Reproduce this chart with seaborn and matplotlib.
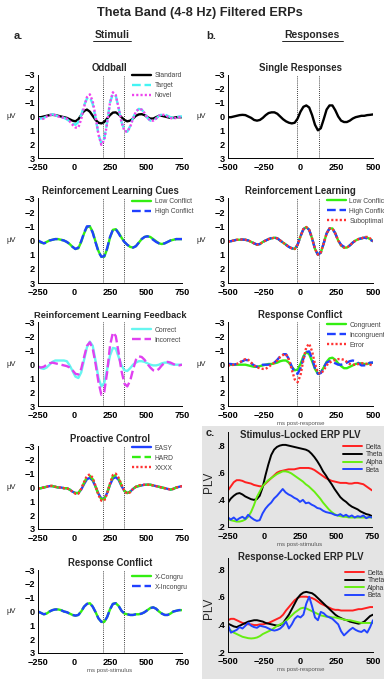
import matplotlib
matplotlib.use("Agg")
import matplotlib.pyplot as plt
import seaborn as sns
from matplotlib.patches import Rectangle
from matplotlib.lines import Line2D

# ---------------- time axes ----------------
t_stim = list(range(-250, 751, 20))
t_resp = list(range(-500, 501, 20))

# ---------------- a. Stimuli ----------------
odd_standard = [0.05, 0.05, 0.0, -0.05, -0.1, -0.12, -0.1, -0.05, 0.0, 0.05,
                0.1, 0.2, 0.3, 0.35, 0.2, -0.1, -0.4, -0.5, -0.35, -0.05,
                0.25, 0.45, 0.5, 0.4, 0.15, -0.1, -0.28, -0.3, -0.15, 0.05,
                0.25, 0.35, 0.3, 0.15, -0.05, -0.15, -0.17, -0.1, 0.05, 0.15,
                0.15, 0.05, -0.05, -0.05, 0.0, 0.05, 0.1, 0.1, 0.05, 0.05,
                0.05]
odd_target = [0.1, 0.15, 0.1, 0.0, -0.1, -0.15, -0.1, 0.0, 0.05, 0.1,
              0.2, 0.35, 0.5, 0.6, 0.4, -0.1, -0.8, -1.3, -1.4, -0.9,
              0.1, 1.3, 1.95, 1.6, 0.4, -1.0, -1.65, -1.5, -0.6, 0.4,
              1.0, 1.1, 0.7, 0.1, -0.35, -0.55, -0.5, -0.25, 0.1, 0.3,
              0.3, 0.15, -0.05, -0.15, -0.15, -0.05, 0.05, 0.1, 0.05, 0.0,
              0.0]
odd_novel = [0.15, 0.2, 0.15, 0.0, -0.1, -0.15, -0.1, 0.0, 0.05, 0.1,
             0.15, 0.35, 0.6, 0.8, 0.8, 0.2, -0.7, -1.4, -1.6, -1.1,
             0.0, 1.3, 2.05, 1.7, 0.5, -1.0, -1.75, -1.55, -0.6, 0.4,
             1.05, 1.1, 0.75, 0.15, -0.35, -0.55, -0.5, -0.25, 0.1, 0.3,
             0.3, 0.15, -0.05, -0.15, -0.1, 0.0, 0.1, 0.15, 0.1, 0.05,
             0.0]

rlc_low = [0.05, 0.15, 0.2, 0.1, 0.0, -0.05, -0.1, -0.1, -0.05, 0.0,
           0.1, 0.25, 0.45, 0.6, 0.55, 0.1, -0.5, -0.95, -1.0, -0.6,
           0.1, 0.75, 1.15, 1.15, 0.6, -0.2, -0.75, -0.8, -0.55, -0.2,
           0.1, 0.3, 0.45, 0.5, 0.4, 0.15, -0.1, -0.25, -0.3, -0.25,
           -0.1, 0.05, 0.2, 0.25, 0.2, 0.1, 0.0, -0.05, -0.1, -0.1,
           -0.1]
rlc_high = [0.0, 0.1, 0.2, 0.15, 0.0, -0.05, -0.1, -0.1, -0.05, 0.0,
            0.1, 0.25, 0.45, 0.6, 0.5, 0.05, -0.55, -1.0, -1.0, -0.55,
            0.15, 0.8, 1.15, 1.1, 0.55, -0.25, -0.75, -0.8, -0.5, -0.15,
            0.1, 0.3, 0.45, 0.5, 0.4, 0.15, -0.1, -0.25, -0.3, -0.2,
            -0.05, 0.1, 0.2, 0.25, 0.2, 0.1, 0.0, -0.05, -0.1, -0.1,
            -0.1]

rlf_correct = [0.15, 0.3, 0.35, 0.25, 0.05, -0.15, -0.25, -0.25, -0.25, -0.25,
               -0.2, 0.1, 0.5, 0.9, 1.0, 0.6, -0.3, -1.2, -1.6, -1.3,
               -0.2, 1.0, 1.6, 1.35, 0.4, -0.6, -1.15, -1.1, -0.5, 0.1,
               0.45, 0.5, 0.3, 0.05, -0.1, -0.2, -0.2, -0.15, -0.05, 0.05,
               0.1, 0.1, 0.05, -0.05, -0.1, -0.1, 0.0, 0.05, 0.05, 0.05,
               0.05]
rlf_incorrect = [0.2, 0.25, 0.2, 0.05, -0.05, -0.1, -0.05, 0.0, 0.05, 0.1,
                 0.15, 0.25, 0.45, 0.7, 0.75, 0.35, -0.5, -1.3, -1.55, -1.1,
                 0.0, 1.3, 2.2, 2.0, 0.6, -1.3, -2.25, -2.0, -0.8, 0.5,
                 1.4, 1.6, 1.2, 0.4, -0.3, -0.55, -0.5, -0.3, 0.0, 0.25,
                 0.45, 0.5, 0.35, 0.1, -0.1, -0.15, -0.1, 0.0, 0.1, 0.1,
                 0.05]

pc_easy = [0.05, 0.05, 0.0, -0.05, -0.1, -0.1, -0.05, 0.0, 0.0, 0.05,
           0.05, 0.15, 0.3, 0.4, 0.4, 0.15, -0.25, -0.6, -0.7, -0.5,
           -0.05, 0.45, 0.8, 0.8, 0.4, -0.2, -0.65, -0.75, -0.55, -0.1,
           0.25, 0.4, 0.3, 0.1, -0.05, -0.1, -0.15, -0.2, -0.2, -0.2,
           -0.15, -0.1, -0.05, 0.0, 0.05, 0.1, 0.15, 0.1, 0.0, -0.05,
           -0.1]
pc_hard = [0.05, 0.05, 0.0, -0.05, -0.12, -0.1, -0.05, 0.0, 0.0, 0.05,
           0.05, 0.15, 0.3, 0.4, 0.4, 0.1, -0.35, -0.75, -0.85, -0.6,
           -0.05, 0.5, 0.85, 0.85, 0.4, -0.25, -0.8, -0.9, -0.65, -0.15,
           0.25, 0.4, 0.3, 0.1, -0.05, -0.12, -0.17, -0.2, -0.2, -0.2,
           -0.15, -0.1, -0.05, 0.0, 0.05, 0.1, 0.15, 0.1, 0.0, -0.05,
           -0.1]
pc_xxxx = [0.1, 0.05, 0.0, -0.05, -0.12, -0.12, -0.05, 0.0, 0.0, 0.05,
           0.05, 0.15, 0.3, 0.45, 0.45, 0.1, -0.4, -0.85, -0.95, -0.7,
           -0.1, 0.55, 0.95, 0.95, 0.45, -0.3, -0.9, -1.0, -0.7, -0.2,
           0.25, 0.45, 0.35, 0.1, -0.05, -0.15, -0.2, -0.2, -0.2, -0.2,
           -0.15, -0.1, -0.05, 0.0, 0.05, 0.1, 0.15, 0.1, 0.0, -0.05,
           -0.1]

rcs_congru = [0.0, 0.1, 0.2, 0.15, 0.0, -0.1, -0.15, -0.15, -0.1, 0.0,
              0.05, 0.15, 0.25, 0.3, 0.25, 0.0, -0.35, -0.55, -0.6, -0.35,
              0.05, 0.5, 0.75, 0.75, 0.4, -0.15, -0.55, -0.6, -0.4, -0.05,
              0.15, 0.2, 0.25, 0.25, 0.2, 0.2, 0.15, 0.05, -0.1, -0.25,
              -0.3, -0.2, 0.0, 0.15, 0.25, 0.25, 0.15, 0.0, -0.05, -0.1,
              -0.1]
rcs_incongru = [0.0, 0.1, 0.2, 0.15, 0.0, -0.1, -0.15, -0.15, -0.1, 0.0,
                0.05, 0.15, 0.25, 0.3, 0.25, 0.0, -0.35, -0.55, -0.6, -0.35,
                0.05, 0.5, 0.75, 0.75, 0.4, -0.15, -0.55, -0.6, -0.4, -0.05,
                0.15, 0.2, 0.25, 0.25, 0.2, 0.2, 0.15, 0.05, -0.1, -0.25,
                -0.3, -0.2, 0.0, 0.15, 0.25, 0.25, 0.15, 0.0, -0.05, -0.1,
                -0.1]

# ---------------- b. Responses ----------------
sr_single = [0.05, 0.05, 0.0, -0.05, -0.1, -0.12, -0.1, 0.0, 0.1, 0.25,
             0.3, 0.25, 0.1, -0.1, -0.25, -0.3, -0.3, -0.2, 0.0, 0.2,
             0.35, 0.45, 0.5, 0.45, 0.15, -0.35, -0.7, -0.8, -0.65, -0.1,
             0.6, 1.0, 0.85, 0.2, -0.5, -0.8, -0.8, -0.45, 0.0, 0.3,
             0.4, 0.4, 0.3, 0.15, 0.05, 0.0, -0.05, -0.05, -0.1, -0.12,
             -0.15]

rl_low = [0.05, 0.05, 0.0, -0.05, -0.05, -0.07, -0.05, 0.0, 0.1, 0.2,
          0.3, 0.25, 0.1, 0.0, -0.1, -0.15, -0.2, -0.15, 0.0, 0.15,
          0.3, 0.45, 0.55, 0.6, 0.3, -0.3, -0.8, -0.95, -0.75, -0.15,
          0.6, 1.0, 0.85, 0.2, -0.5, -0.85, -0.85, -0.5, 0.0, 0.35,
          0.5, 0.5, 0.35, 0.15, 0.0, -0.1, -0.15, -0.2, -0.2, -0.1,
          0.05]
rl_high = [0.05, 0.05, 0.0, -0.05, -0.07, -0.07, -0.05, 0.0, 0.1, 0.2,
           0.28, 0.25, 0.1, 0.0, -0.1, -0.18, -0.22, -0.15, 0.0, 0.15,
           0.3, 0.45, 0.55, 0.6, 0.3, -0.3, -0.8, -0.95, -0.75, -0.15,
           0.6, 1.0, 0.85, 0.2, -0.5, -0.85, -0.85, -0.5, 0.0, 0.3,
           0.45, 0.45, 0.35, 0.15, 0.0, -0.1, -0.15, -0.2, -0.15, -0.05,
           0.05]
rl_subopt = [0.1, 0.05, 0.0, -0.05, -0.07, -0.07, -0.05, 0.0, 0.1, 0.2,
             0.3, 0.25, 0.1, 0.0, -0.1, -0.15, -0.2, -0.15, 0.0, 0.15,
             0.3, 0.45, 0.55, 0.6, 0.3, -0.3, -0.8, -0.95, -0.75, -0.15,
             0.6, 1.0, 0.85, 0.2, -0.5, -0.85, -0.85, -0.5, 0.0, 0.35,
             0.5, 0.5, 0.35, 0.15, 0.0, -0.1, -0.15, -0.25, -0.25, -0.15,
             0.05]

rc_congruent = [0.05, 0.05, 0.05, 0.05, 0.05, 0.05, 0.05, 0.1, 0.15, 0.2,
                0.2, 0.15, 0.1, 0.05, 0.0, 0.0, -0.05, -0.1, -0.2, -0.25,
                -0.25, -0.1, 0.2, 0.45, 0.4, 0.0, -0.55, -0.85, -0.7, -0.2,
                0.35, 0.7, 0.6, 0.25, -0.15, -0.4, -0.45, -0.3, -0.05, 0.15,
                0.3, 0.3, 0.2, 0.1, 0.0, -0.05, -0.05, 0.0, 0.0, -0.05,
                -0.1]
rc_incongruent = [0.0, 0.0, 0.05, 0.0, -0.1, -0.2, -0.3, -0.25, -0.05, 0.1,
                  0.2, 0.15, 0.05, 0.05, 0.05, 0.0, -0.1, -0.3, -0.55, -0.7,
                  -0.7, -0.35, 0.2, 0.6, 0.7, 0.3, -0.4, -0.85, -0.9, -0.4,
                  0.3, 0.7, 0.65, 0.25, -0.1, -0.2, -0.15, -0.05, 0.05, 0.05,
                  0.0, -0.1, -0.2, -0.25, -0.2, -0.05, 0.1, 0.1, 0.0, -0.1,
                  -0.1]
rc_error = [0.1, 0.1, 0.05, 0.0, -0.1, -0.25, -0.35, -0.3, -0.1, 0.1,
            0.25, 0.3, 0.35, 0.35, 0.2, 0.05, -0.1, -0.25, -0.5, -0.65,
            -0.7, -0.3, 0.4, 1.1, 1.3, 0.8, -0.3, -1.2, -1.45, -0.9,
            0.0, 0.6, 0.7, 0.45, 0.1, -0.1, -0.2, -0.3, -0.35, -0.35,
            -0.3, -0.15, 0.0, 0.05, 0.05, 0.0, -0.05, -0.05, 0.0, 0.05,
            0.1]

# ---------------- c. PLV ----------------
plv_s_delta = [0.47, 0.5, 0.53, 0.545, 0.545, 0.54, 0.53, 0.525, 0.52, 0.51,
               0.505, 0.5, 0.5, 0.52, 0.54, 0.56, 0.58, 0.6, 0.61, 0.615,
               0.62, 0.625, 0.625, 0.625, 0.63, 0.635, 0.635, 0.635, 0.635, 0.63,
               0.62, 0.605, 0.59, 0.575, 0.56, 0.55, 0.54, 0.535, 0.53, 0.525,
               0.525, 0.525, 0.52, 0.52, 0.525, 0.525, 0.52, 0.515, 0.5, 0.485,
               0.47]
plv_s_theta = [0.38, 0.41, 0.43, 0.445, 0.45, 0.44, 0.425, 0.415, 0.405, 0.4,
               0.405, 0.43, 0.49, 0.58, 0.66, 0.73, 0.77, 0.79, 0.8, 0.805,
               0.805, 0.8, 0.795, 0.79, 0.785, 0.78, 0.775, 0.77, 0.76, 0.74,
               0.715, 0.685, 0.65, 0.61, 0.58, 0.545, 0.515, 0.48, 0.45, 0.42,
               0.4, 0.385, 0.365, 0.35, 0.34, 0.33, 0.315, 0.305, 0.295, 0.29,
               0.28]
plv_s_alpha = [0.26, 0.25, 0.245, 0.24, 0.24, 0.245, 0.255, 0.275, 0.31, 0.36,
               0.42, 0.46, 0.5, 0.525, 0.545, 0.56, 0.575, 0.59, 0.6, 0.61,
               0.61, 0.605, 0.595, 0.58, 0.565, 0.55, 0.535, 0.515, 0.5, 0.48,
               0.46, 0.435, 0.41, 0.38, 0.355, 0.33, 0.31, 0.295, 0.285, 0.28,
               0.275, 0.275, 0.27, 0.27, 0.27, 0.27, 0.27, 0.27, 0.27, 0.27,
               0.27]
plv_s_beta = [0.27, 0.255, 0.27, 0.25, 0.265, 0.275, 0.26, 0.29, 0.27, 0.255,
              0.245, 0.25, 0.3, 0.335, 0.36, 0.38, 0.41, 0.43, 0.455, 0.48,
              0.455, 0.44, 0.43, 0.415, 0.405, 0.385, 0.4, 0.375, 0.38, 0.365,
              0.355, 0.34, 0.335, 0.32, 0.31, 0.305, 0.3, 0.29, 0.285, 0.295,
              0.28, 0.29, 0.275, 0.285, 0.27, 0.28, 0.275, 0.285, 0.265, 0.275,
              0.27]

plv_r_delta = [0.43, 0.44, 0.44, 0.43, 0.42, 0.41, 0.405, 0.4, 0.4, 0.395,
               0.395, 0.4, 0.4, 0.405, 0.41, 0.42, 0.43, 0.44, 0.45, 0.47,
               0.5, 0.525, 0.55, 0.575, 0.59, 0.6, 0.6, 0.6, 0.595, 0.59,
               0.58, 0.565, 0.55, 0.54, 0.53, 0.52, 0.51, 0.505, 0.505, 0.5,
               0.5, 0.5, 0.5, 0.5, 0.505, 0.51, 0.51, 0.515, 0.52, 0.525,
               0.525]
plv_r_theta = [0.405, 0.395, 0.385, 0.38, 0.39, 0.4, 0.41, 0.42, 0.425, 0.43,
               0.43, 0.425, 0.42, 0.41, 0.405, 0.4, 0.395, 0.39, 0.395, 0.41,
               0.44, 0.47, 0.51, 0.55, 0.59, 0.615, 0.63, 0.635, 0.63, 0.625,
               0.61, 0.59, 0.57, 0.55, 0.53, 0.51, 0.49, 0.47, 0.455, 0.445,
               0.435, 0.43, 0.42, 0.415, 0.41, 0.405, 0.41, 0.42, 0.44, 0.46,
               0.47]
plv_r_alpha = [0.37, 0.355, 0.34, 0.33, 0.32, 0.31, 0.305, 0.3, 0.298, 0.3,
               0.305, 0.315, 0.33, 0.34, 0.35, 0.36, 0.375, 0.39, 0.4, 0.41,
               0.425, 0.445, 0.465, 0.485, 0.5, 0.515, 0.52, 0.515, 0.505, 0.495,
               0.485, 0.475, 0.465, 0.46, 0.455, 0.455, 0.45, 0.45, 0.445, 0.44,
               0.435, 0.43, 0.43, 0.425, 0.42, 0.415, 0.41, 0.41, 0.41, 0.41,
               0.41]
plv_r_beta = [0.395, 0.34, 0.35, 0.36, 0.38, 0.37, 0.39, 0.41, 0.39, 0.38,
              0.375, 0.39, 0.385, 0.38, 0.37, 0.36, 0.355, 0.36, 0.37, 0.39,
              0.42, 0.37, 0.4, 0.44, 0.46, 0.45, 0.47, 0.55, 0.6, 0.53,
              0.45, 0.43, 0.49, 0.48, 0.46, 0.45, 0.44, 0.42, 0.4, 0.35,
              0.32, 0.34, 0.36, 0.375, 0.36, 0.35, 0.345, 0.36, 0.34, 0.38,
              0.43]

xt_stim = [-250, 0, 250, 500, 750]
xt_resp = [-500, -250, 0, 250, 500]
yt_erp = [-3, -2, -1, 0, 1, 2, 3]
yt_plv = [0.2, 0.4, 0.6, 0.8]
yt_plv_labels = [".2", ".4", ".6", ".8"]

# ---------------- figure ----------------
sns.set_theme(style="white")
plt.rcParams["font.family"] = ["Liberation Sans", "DejaVu Sans"]
plt.rcParams["axes.unicode_minus"] = True

W, H = 384, 679
fig = plt.figure(figsize=(W / 100, H / 100), dpi=100)

LW = 1.7
DOT = (0, (0.9, 0.9))
TICK_FS = 6.6
LEG_FS = 4.9


def rect(x0, x1, y0, y1):
    return [x0 / W, 1 - y1 / H, (x1 - x0) / W, (y1 - y0) / H]


def fmt_num(v):
    s = str(int(v))
    return s.replace("-", "\u2212")


def style_axes(ax, xlim, xticks, ylim, yticks, ylabels):
    ax.set_facecolor("none")
    ax.set_xlim(*xlim)
    ax.set_ylim(*ylim)
    ax.set_xticks(xticks)
    ax.set_xticklabels([fmt_num(v) for v in xticks], fontweight="bold", fontsize=TICK_FS)
    ax.set_yticks(yticks)
    ax.set_yticklabels(ylabels, fontweight="bold", fontsize=TICK_FS)
    for s in ["top", "right"]:
        ax.spines[s].set_visible(False)
    for s in ["left", "bottom"]:
        ax.spines[s].set_color("black")
        ax.spines[s].set_linewidth(0.7)
    ax.tick_params(direction="in", length=2, width=0.6, colors="black")
    ax.tick_params(axis="y", pad=2.3)
    ax.tick_params(axis="x", pad=3.3)
    ax.set_xlabel("")
    ax.set_ylabel("")


def erp_panel(x0, x1, y0, y1, t, series, title, vlines, xticks, leg_anchor=None,
              xlabel=None, title_fs=6.9):
    ax = fig.add_axes(rect(x0, x1, y0, y1))
    handles = []
    for vals, color, ls, lab in series:
        sns.lineplot(x=t, y=vals, ax=ax, color=color, linestyle=ls, linewidth=LW)
        handles.append(Line2D([], [], color=color, linestyle=ls, linewidth=LW, label=lab))
    for v in vlines:
        ax.axvline(v, color="black", linestyle=(0, (1, 1.5)), linewidth=0.6, zorder=0)
    style_axes(ax, (t[0], t[-1]), xticks, (3, -3), yt_erp, [fmt_num(v) for v in yt_erp])
    ax.set_title(title, fontsize=title_fs, fontweight="bold", pad=3)
    ax.text(-0.185, 0.5, "\u03bcV", transform=ax.transAxes, fontsize=5.5,
            ha="center", va="center")
    if leg_anchor is not None:
        leg = ax.legend(handles=handles, loc="upper left", bbox_to_anchor=leg_anchor,
                        frameon=False, fontsize=LEG_FS, handlelength=2.8, handletextpad=0.5,
                        labelspacing=0.45, borderpad=0, borderaxespad=0)
        for txt in leg.get_texts():
            txt.set_color("#444444")
    if xlabel is not None:
        ax.text(0.5, -0.205, xlabel, transform=ax.transAxes, fontsize=4.3,
                color="#555555", ha="center", va="center")
    return ax


def plv_panel(x0, x1, y0, y1, t, series, title, title_y, xticks, ylim, leg_anchor, xlabel):
    ax = fig.add_axes(rect(x0, x1, y0, y1))
    handles = []
    for vals, color, lab in series:
        sns.lineplot(x=t, y=vals, ax=ax, color=color, linewidth=1.4)
        handles.append(Line2D([], [], color=color, linewidth=1.4, label=lab))
    style_axes(ax, (t[0], t[-1]), xticks, ylim, yt_plv, yt_plv_labels)
    ax.text(0.5, title_y, title, transform=ax.transAxes, fontsize=6.9,
            fontweight="bold", ha="center", va="center")
    ax.text(-0.13, 0.47, "PLV", transform=ax.transAxes, fontsize=8.5, rotation=90,
            ha="center", va="center")
    leg = ax.legend(handles=handles, loc="upper left", bbox_to_anchor=leg_anchor,
                    frameon=False, fontsize=LEG_FS, handlelength=2.8, handletextpad=0.5,
                    labelspacing=0.08, borderpad=0, borderaxespad=0)
    for txt in leg.get_texts():
        txt.set_color("#333333")
    ax.text(0.5, -0.185, xlabel, transform=ax.transAxes, fontsize=4.3,
            color="#555555", ha="center", va="center")
    return ax


# grey background for panel c
fig.add_artist(Rectangle((202 / W, 0), (W - 202) / W, (H - 426) / H,
                         transform=fig.transFigure, facecolor="#e4e4e4",
                         edgecolor="none", zorder=-10))

LX0, LX1 = 38, 182
RX0, RX1 = 228, 373
vl_stim = [200, 350]
vl_resp = [-25, 125]

CYAN = "#44f4f4"
MAG = "#ee44ee"
GREEN = "#33ee11"
BLUE = "#2040ff"
RED = "#ff3333"
AQUA = "#66f6f0"
VIOLET = "#e040f0"

erp_panel(LX0, LX1, 75, 158, t_stim,
          [(odd_standard, "black", "-", "Standard"),
           (odd_target, CYAN, "--", "Target"),
           (odd_novel, MAG, DOT, "Novel")],
          "Oddball", vl_stim, xt_stim, leg_anchor=(0.655, 1.035))
erp_panel(LX0, LX1, 198, 283, t_stim,
          [(rlc_low, GREEN, "-", "Low Conflict"),
           (rlc_high, BLUE, "--", "High Conflict")],
          "Reinforcement Learning Cues", vl_stim, xt_stim, leg_anchor=(0.655, 0.995))
erp_panel(LX0, LX1, 322, 406, t_stim,
          [(rlf_correct, AQUA, "-", "Correct"),
           (rlf_incorrect, VIOLET, "--", "Incorrect")],
          "Reinforcement Learning Feedback", vl_stim, xt_stim, leg_anchor=(0.655, 0.945),
          title_fs=6.7)
erp_panel(LX0, LX1, 446, 529, t_stim,
          [(pc_easy, BLUE, "-", "EASY"),
           (pc_hard, GREEN, "--", "HARD"),
           (pc_xxxx, RED, DOT, "XXXX")],
          "Proactive Control", vl_stim, xt_stim, leg_anchor=(0.655, 1.015))
erp_panel(LX0, LX1, 570, 653, t_stim,
          [(rcs_congru, GREEN, "-", "X-Congru"),
           (rcs_incongru, BLUE, "--", "X-Incongru")],
          "Response Conflict", vl_stim, xt_stim, leg_anchor=(0.655, 0.955),
          xlabel="ms post-stimulus")

erp_panel(RX0, RX1, 75, 158, t_resp,
          [(sr_single, "black", "-", "Single")],
          "Single Responses", vl_resp, xt_resp)
erp_panel(RX0, RX1, 198, 283, t_resp,
          [(rl_low, GREEN, "-", "Low Conflict"),
           (rl_high, BLUE, "--", "High Conflict"),
           (rl_subopt, RED, DOT, "Suboptimal")],
          "Reinforcement Learning", vl_resp, xt_resp, leg_anchor=(0.683, 1.005))
erp_panel(RX0, RX1, 322, 406, t_resp,
          [(rc_congruent, GREEN, "-", "Congruent"),
           (rc_incongruent, BLUE, "--", "Incongruent"),
           (rc_error, RED, DOT, "Error")],
          "Response Conflict", vl_resp, xt_resp, leg_anchor=(0.683, 1.005),
          xlabel="ms post-response")

plv_panel(RX0, 372, 432, 527, t_stim,
          [(plv_s_delta, "#ff2020", "Delta"), (plv_s_theta, "black", "Theta"),
           (plv_s_alpha, "#66ee11", "Alpha"), (plv_s_beta, "#2244ff", "Beta")],
          "Stimulus-Locked ERP PLV", 0.965, xt_stim, (0.2, 0.9), (0.8, 0.875),
          "ms post-stimulus")
plv_panel(RX0, RX1, 558, 652, t_resp,
          [(plv_r_delta, "#ff2020", "Delta"), (plv_r_theta, "black", "Theta"),
           (plv_r_alpha, "#66ee11", "Alpha"), (plv_r_beta, "#2244ff", "Beta")],
          "Response-Locked ERP PLV", 1.01, xt_resp, (0.2, 0.88), (0.807, 0.875),
          "ms post-response")

# headers
fig.text(200 / W, 1 - 13 / H, "Theta Band (4-8 Hz) Filtered ERPs", ha="center",
         va="center", fontsize=9.2, fontweight="bold")
fig.text(14 / W, 1 - 36 / H, "a.", ha="left", va="center", fontsize=8, fontweight="bold")
fig.text(112 / W, 1 - 35 / H, "Stimuli", ha="center", va="center", fontsize=7.5,
         fontweight="bold")
fig.add_artist(Line2D([93 / W, 131 / W], [1 - 40.5 / H] * 2, color="black", lw=0.6))
fig.text(206 / W, 1 - 36 / H, "b.", ha="left", va="center", fontsize=8, fontweight="bold")
fig.text(312 / W, 1 - 35 / H, "Responses", ha="center", va="center", fontsize=7.5,
         fontweight="bold")
fig.add_artist(Line2D([282 / W, 343 / W], [1 - 40.5 / H] * 2, color="black", lw=0.6))
fig.text(206 / W, 1 - 433 / H, "c.", ha="left", va="center", fontsize=8, fontweight="bold")

fig.savefig("out.png", dpi=100)
